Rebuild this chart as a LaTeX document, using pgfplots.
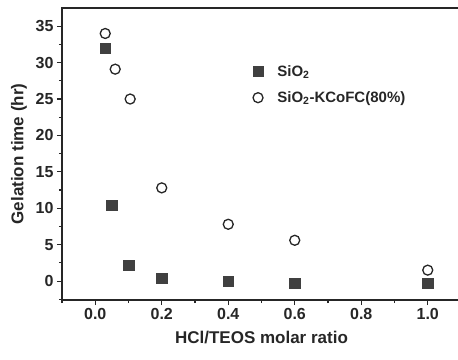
\documentclass[border=0pt]{standalone}
\usepackage{pgfplots}
\pgfplotsset{compat=1.18}
\usepackage{fontspec}
\setmainfont{Liberation Sans}
\begin{document}
\begin{tikzpicture}
\begin{axis}[
  name=ax,
  scale only axis,
  width=399pt, height=292pt,
  xmin=-0.1, xmax=1.1,
  ymin=-2.6, ymax=37.5,
  xtick={0,0.2,0.4,0.6,0.8,1.0},
  xticklabels={0.0,0.2,0.4,0.6,0.8,1.0},
  minor xtick={-0.1,0.1,0.3,0.5,0.7,0.9},
  ytick={0,5,10,15,20,25,30,35},
  minor ytick={-2.5,2.5,7.5,12.5,17.5,22.5,27.5,32.5},
  tick align=outside,
  xtick pos=bottom, ytick pos=left,
  major tick length=5pt, minor tick length=3pt,
  every tick/.style={line width=1.1pt, black!85},
  axis line style={line width=1.4pt, black!85},
  /pgf/number format/assume math mode=true,
  ticklabel style={font=\bfseries\fontsize{16}{18}\selectfont, text=black!85},
  xlabel={HCl/TEOS molar ratio},
  ylabel={Gelation time (hr)},
  label style={font=\bfseries\fontsize{17}{20}\selectfont, text=black!85},
  xlabel style={yshift=-4pt},
  ylabel style={yshift=2pt},
  legend style={draw=none, fill=none, at={(0.47,0.738)}, anchor=west,
    font=\bfseries\fontsize{15}{18}\selectfont, text=black!85,
    row sep=10pt, column sep=12pt},
  legend cell align=left,
]
\addplot[only marks, mark=square*, mark size=5.3pt, draw=black!75, fill=black!75]
 coordinates {(0.03,32) (0.05,10.4) (0.1,2.2) (0.2,0.4) (0.4,0.0) (0.6,-0.3) (1.0,-0.3)};
\addlegendentry{SiO\textsubscript{2}}
\addplot[only marks, mark=o, mark size=5pt, line width=1.3pt, draw=black!85]
 coordinates {(0.03,34) (0.06,29.1) (0.105,25) (0.2,12.8) (0.4,7.8) (0.6,5.6) (1.0,1.5)};
\addlegendentry{SiO\textsubscript{2}-KCoFC(80\%)}
\end{axis}
\pgfresetboundingbox
\path[use as bounding box] ([shift={(-62pt,-59pt)}]ax.south west) rectangle ([shift={(-3pt,8pt)}]ax.north east);
\end{tikzpicture}
\end{document}
